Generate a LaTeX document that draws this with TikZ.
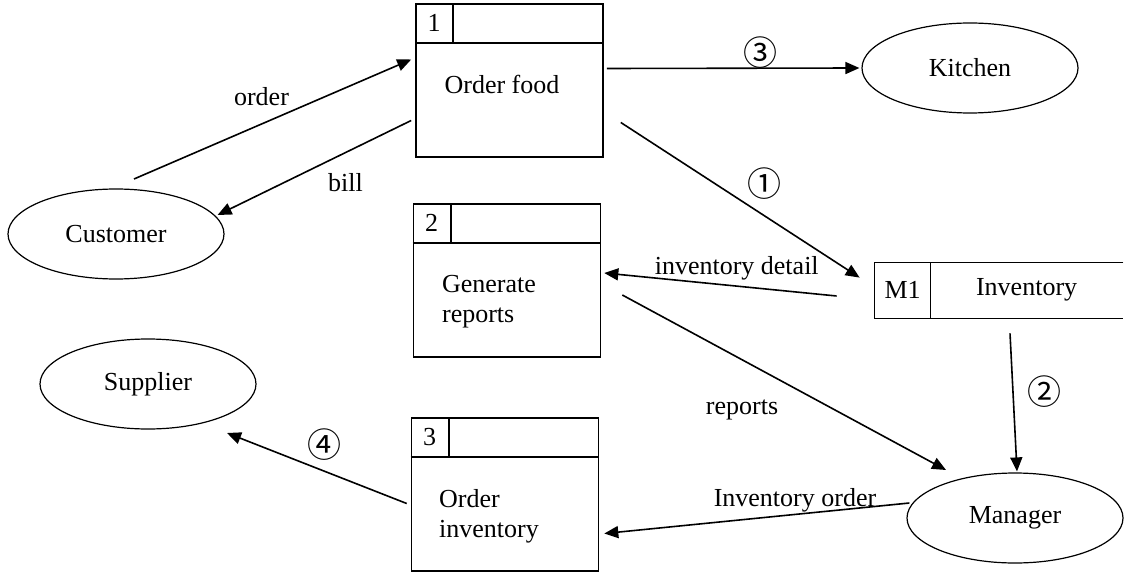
\documentclass[tikz,border=0pt]{standalone}
\usepackage{fontspec}
\setmainfont{Liberation Serif}
\newfontfamily\circfont{Noto Sans CJK SC}
\usetikzlibrary{shapes.geometric,arrows.meta}
\newcommand{\cnum}[1]{{\circfont\fontsize{17}{17}\selectfont #1}}

\begin{document}
\begin{tikzpicture}[x=0.5pt,y=-0.5pt,font=\fontsize{13}{15}\selectfont,
    proc/.style={draw,line width=0.8pt,minimum width=93.5pt,minimum height=76.5pt},
    ent/.style={draw,ellipse,line width=0.6pt,minimum width=108pt,minimum height=45pt},
    flow/.style={-{Triangle[length=7pt,width=6pt]},line width=0.8pt}]
      \useasboundingbox (0,0) rectangle (1127,577);

      \node [proc] (p1) at (509.5,80.5) {};
      \node [proc] (p2) at (507,280.5) {};
      \node [proc] (p3) at (505,494.5) {};
      \foreach \p/\n in {p1/1,p2/2,p3/3} {
        \draw [line width=0.8pt] ([yshift=-20pt]\p.north west) -- ([yshift=-20pt]\p.north east);
        \draw [line width=0.8pt] ([xshift=19pt]\p.north west) -- ++(0,40);
        \node (n\n) at ([shift={(19,20)}]\p.north west) {\n};
      }
      \node [anchor=west,inner sep=0] (t1) at ([shift={(29,81)}]p1.north west) {Order food};
      \node [anchor=west,inner sep=0,align=left] (t2) at ([shift={(29,98)}]p2.north west) {Generate\\reports};
      \node [anchor=west,inner sep=0,align=left] (t3) at ([shift={(28,99)}]p3.north west) {Order\\inventory};

      \node [ent] (cust) at (116,234) {Customer};
      \node [ent] (sup) at (148,384) {Supplier};
      \node [ent] (kit) at (970,68) {Kitchen};
      \node [ent] (man) at (1015,518) {Manager};

      \node [minimum width=124pt,minimum height=27.5pt,inner sep=0] (m1) at (999,290.5) {};
      \draw [line width=0.8pt] (m1.north east) -- (m1.north west) -- (m1.south west) -- (m1.south east);
      \draw [line width=0.8pt] ([xshift=28pt]m1.north west) -- ([xshift=28pt]m1.south west);
      \node (m1id) at ([shift={(28,27.5)}]m1.north west) {M1};
      \node (m1name) at ([shift={(152,27.5)}]m1.north west) {Inventory};

      \draw [flow] ([shift={(18,-55)}]cust.center) -- node [pos=.46,yshift=13.5pt] {order} ([shift={(-4,-21)}]p1.west);
      \draw [flow] ([shift={(-4,40)}]p1.west) -- node [pos=.34,yshift=-15pt] {bill} ([shift={(-7,-19)}]cust.east);
      \draw [flow] ([shift={(3,-12)}]p1.east) -- node [pos=.61,yshift=8pt] {\cnum{③}} ([xshift=-1pt]kit.west);
      \draw [flow] ([shift={(17,42)}]p1.east) -- node [pos=.6,yshift=16pt] {\cnum{①}} ([shift={(-15,15)}]m1.north west);
      \draw [flow] ([shift={(-38,5.5)}]m1.west) -- node [pos=.43,yshift=9pt] {inventory detail} ([shift={(3,-7.5)}]p2.east);
      \draw [flow] ([shift={(21,14.5)}]p2.east) -- node [pos=.37,yshift=-25pt] {reports} ([shift={(-69,-48)}]man.center);
      \draw [flow] ([shift={(11,15)}]m1.south) -- node [pos=.42,xshift=16pt] {\cnum{②}} ([shift={(2,-1)}]man.north);
      \draw [flow] ([shift={(3,-15)}]man.west) -- node [pos=.375,yshift=7pt] {Inventory order} ([shift={(5,39)}]p3.east);
      \draw [flow] ([shift={(-4,9)}]p3.west) -- node [pos=.46,yshift=13pt] {\cnum{④}} ([shift={(79,49)}]sup.center);
    \end{tikzpicture}
\end{document}
